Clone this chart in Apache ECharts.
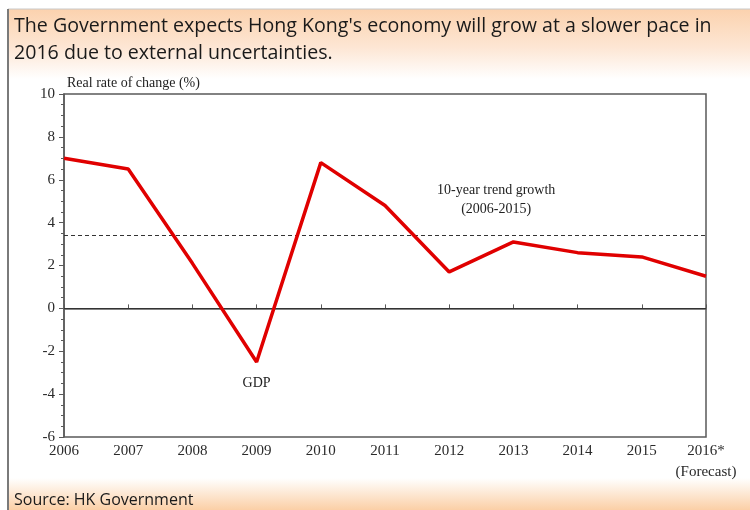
<!DOCTYPE html>
<html>
<head>
<meta charset="utf-8">
<script src="https://cdn.jsdelivr.net/npm/echarts@6/dist/echarts.min.js"></script>
<style>html,body{margin:0;padding:0;background:#fff;}#c{width:750px;height:510px;}</style>
</head>
<body>
<div id="c"></div>
<script>
var years = ['2006','2007','2008','2009','2010','2011','2012','2013','2014','2015','2016'];
var gdp = [7.0, 6.5, 2.1, -2.5, 6.8, 4.8, 1.7, 3.1, 2.6, 2.4, 1.5];
var trend = 3.4;
var yTicks = {min: -6, max: 10, interval: 2};
var titleLines = ["The Government expects Hong Kong's economy will grow at a slower pace in", "2016 due to external uncertainties."];
var yName = 'Real rate of change (%)';
var trendLabel = ['10-year trend growth', '(2006-2015)'];
var seriesLabel = 'GDP';
var source = 'Source: HK Government';

var chart = echarts.init(document.getElementById('c'));
var serif = '"Liberation Serif","Times New Roman",serif';
chart.setOption({
  animation: false,
  backgroundColor: '#ffffff',
  graphic: [
    {type: 'rect', z: -10, shape: {x: 8, y: 9, width: 742, height: 70},
     style: {fill: new echarts.graphic.LinearGradient(0, 0, 0, 1, [{offset: 0, color: '#fbd2ae'}, {offset: 0.55, color: '#fde6d4'}, {offset: 1, color: '#ffffff'}])}},
    {type: 'rect', z: -10, shape: {x: 8, y: 478, width: 742, height: 32},
     style: {fill: new echarts.graphic.LinearGradient(0, 0, 0, 1, [{offset: 0, color: '#ffffff'}, {offset: 1, color: '#fbcfa6'}])}},
    {type: 'line', shape: {x1: 8, y1: 9, x2: 750, y2: 9}, style: {stroke: '#c8c8c8', lineWidth: 1}},
    {type: 'line', shape: {x1: 8, y1: 9, x2: 8, y2: 510}, style: {stroke: '#7a7a7a', lineWidth: 2}},
    {type: 'text', left: 14, top: 16, style: {text: titleLines[0], font: '19.6px "Open Sans", sans-serif', fill: '#1a1a1a'}},
    {type: 'text', left: 14, top: 43, style: {text: titleLines[1], font: '19.6px "Open Sans", sans-serif', fill: '#1a1a1a'}},
    {type: 'text', left: 67, top: 76, style: {text: yName, font: '14px ' + serif, fill: '#222'}},
    {type: 'text', left: 14, top: 492, style: {text: source, font: '16px "Open Sans", sans-serif', fill: '#1a1a1a'}}
  ],
  grid: {left: 64, right: 44, top: 94, bottom: 73, show: true, borderColor: '#5a5a5a', borderWidth: 1.5, backgroundColor: 'transparent'},
  xAxis: {
    type: 'category', data: years, boundaryGap: false,
    axisLine: {lineStyle: {color: '#5a5a5a', width: 1.5}},
    axisTick: {inside: true, length: 4, interval: 0, lineStyle: {color: '#5a5a5a'}},
    axisLabel: {
      color: '#2a2a2a', fontFamily: serif, fontSize: 15, margin: 4, lineHeight: 21, interval: 0, showMaxLabel: true,
      formatter: function (v, i) { return i === years.length - 1 ? v + '*\n(Forecast)' : v; }
    },
    splitLine: {show: false}
  },
  yAxis: {
    type: 'value', min: yTicks.min, max: yTicks.max, interval: yTicks.interval,
    axisLine: {show: true, lineStyle: {color: '#5a5a5a', width: 1.5}},
    axisTick: {show: true, length: 5, lineStyle: {color: '#5a5a5a'}},
    minorTick: {show: true, splitNumber: 4, length: 3, lineStyle: {color: '#5a5a5a'}},
    axisLabel: {color: '#2a2a2a', fontFamily: serif, fontSize: 15, margin: 9},
    splitLine: {show: false}
  },
  series: [{
    type: 'line', data: gdp, symbol: 'none',
    lineStyle: {color: '#e00000', width: 3.5},
    z: 5,
    markLine: {
      silent: true, symbol: 'none', label: {show: false},
      data: [
        {yAxis: trend, lineStyle: {color: '#333', type: [4, 3], width: 1}},
        {yAxis: 0, lineStyle: {color: '#333', type: 'solid', width: 1}}
      ]
    },
    markPoint: {
      silent: true, symbol: 'rect', symbolSize: 1, itemStyle: {color: 'rgba(0,0,0,0)'},
      label: {show: true, position: 'inside', color: '#222', fontFamily: serif, fontSize: 14, lineHeight: 19},
      data: [
        {coord: ['2012', 5.05], value: 0, label: {formatter: trendLabel.join('\n'), offset: [47, 0]}},
        {coord: ['2009', -3.5], value: 0, label: {formatter: seriesLabel}}
      ]
    }
  }]
});
</script>
</body>
</html>
